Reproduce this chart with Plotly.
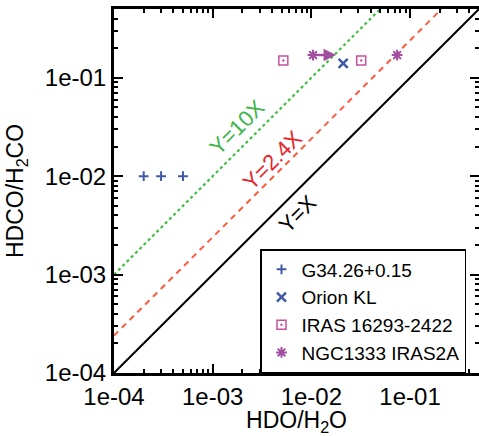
import numpy as np
import plotly.graph_objects as go

# ---- data ----
g34_x = [2e-4, 3e-4, 5e-4]
g34_y = [0.01, 0.01, 0.01]
orion_x = [0.021]
orion_y = [0.14]
iras_x = [0.0052, 0.032]
iras_y = [0.15, 0.15]
ngc_x = [0.0104, 0.074]
ngc_y = [0.17, 0.17]
ngc_arrow_from = 0.0104
ngc_arrow_to = 0.0178
ngc_arrow_y = 0.17

xmin, xmax = 1e-4, 0.5
ymin, ymax = 1e-4, 0.5
tick_vals = [1e-4, 1e-3, 1e-2, 1e-1]
tick_text = ["1e-04", "1e-03", "1e-02", "1e-01"]
minor_vals = [k * 10.0 ** e for e in range(-4, 0) for k in range(2, 10)]
ratio_factors = [1.0, 2.4, 10.0]
ratio_labels = ["Y=X", "Y=2.4X", "Y=10X"]

FONT = "Liberation Sans, Arial, Helvetica, sans-serif"
BLUE = "#4058a8"
MAG_SQ = "#c8509c"
MAG_AST = "#a24fa2"

fig = go.Figure()

# ratio lines
line_styles = [dict(color="black", width=2, dash="solid"),
               dict(color="#ff5a3c", width=2, dash="6px,5px"),
               dict(color="#3fbf3f", width=2.2, dash="dot")]
for f, st in zip(ratio_factors, line_styles):
    lx = np.array([xmin, min(xmax, ymax / f)])
    fig.add_trace(go.Scatter(x=lx, y=lx * f, mode="lines", line=st,
                             showlegend=False, hoverinfo="skip"))

fig.add_trace(go.Scatter(x=g34_x, y=g34_y, mode="markers", name="G34.26+0.15",
                         marker=dict(symbol="cross-thin-open", size=7, color=BLUE,
                                     line=dict(color=BLUE, width=2))))
fig.add_trace(go.Scatter(x=orion_x, y=orion_y, mode="markers", name="Orion KL",
                         marker=dict(symbol="x-thin-open", size=9, color=BLUE,
                                     line=dict(color=BLUE, width=2.5))))
fig.add_trace(go.Scatter(x=iras_x, y=iras_y, mode="markers", name="IRAS 16293-2422",
                         marker=dict(symbol="square-open-dot", size=9, color=MAG_SQ,
                                     line=dict(color=MAG_SQ, width=1.5))))
fig.add_trace(go.Scatter(x=ngc_x, y=ngc_y, mode="markers", name="NGC1333 IRAS2A",
                         marker=dict(symbol="asterisk-open", size=9, color=MAG_AST,
                                     line=dict(color=MAG_AST, width=2))))

# arrow (lower limit)
fig.add_annotation(x=np.log10(ngc_arrow_to), y=np.log10(ngc_arrow_y),
                   ax=np.log10(ngc_arrow_from), ay=np.log10(ngc_arrow_y),
                   xref="x", yref="y", axref="x", ayref="y",
                   showarrow=True, arrowhead=2, arrowsize=1, arrowwidth=2.5,
                   arrowcolor=MAG_AST, text="")

# line labels
label_pos = [(7.3e-3, 4.2e-3, "black"), (4.0e-3, 1.45e-2, "#e8232a"), (1.77e-3, 3.1e-2, "#3cb44a")]
for (lxp, lyp, c), t in zip(label_pos, ratio_labels):
    fig.add_annotation(x=np.log10(lxp), y=np.log10(lyp), xref="x", yref="y",
                       text=t, showarrow=False, textangle=-45,
                       font=dict(family=FONT, size=22, color=c))

axis_common = dict(type="log", showline=True, linewidth=3, linecolor="black",
                   mirror="allticks", ticks="inside", ticklen=9, tickwidth=2,
                   tickcolor="black", showgrid=False, zeroline=False,
                   automargin=False,
                   tickmode="array", tickvals=tick_vals, ticktext=tick_text,
                   tickfont=dict(family=FONT, size=24, color="black"),
                   minor=dict(ticks="inside", ticklen=4, tickwidth=1.5,
                              tickcolor="black", tickmode="array",
                              tickvals=minor_vals, showgrid=False))

fig.update_layout(
    width=479, height=436,
    margin=dict(l=114, r=0, t=9, b=63, autoexpand=False),
    paper_bgcolor="white", plot_bgcolor="white",
    font=dict(family=FONT, color="black"),
    xaxis=dict(range=[np.log10(xmin), np.log10(xmax)],
               title=dict(text="HDO/H<sub>2</sub>O",
                          font=dict(family=FONT, size=23)),
               **axis_common),
    yaxis=dict(range=[np.log10(ymin), np.log10(ymax)],
               title=dict(text="HDCO/H<sub>2</sub>CO",
                          font=dict(family=FONT, size=23)),
               **axis_common),
    legend=dict(x=0.4, y=0.0, xanchor="left", yanchor="bottom",
                bgcolor="white", bordercolor="black", borderwidth=1.5,
                font=dict(family=FONT, size=19, color="black"),
                itemwidth=30, tracegroupgap=0),
    showlegend=True,
)

fig.write_html("out.html")
